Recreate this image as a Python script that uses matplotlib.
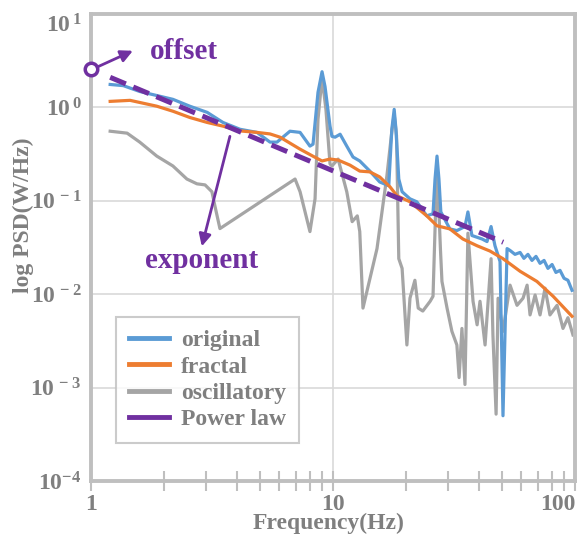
import matplotlib

matplotlib.use("Agg")

import matplotlib.pyplot as plt
from matplotlib.lines import Line2D
from matplotlib.ticker import FixedLocator, FixedFormatter, NullLocator

plt.rcParams["font.family"] = ["Liberation Serif", "DejaVu Serif"]
plt.rcParams["font.weight"] = "bold"
plt.rcParams["mathtext.fontset"] = "custom"
plt.rcParams["mathtext.rm"] = "Liberation Serif:bold"
plt.rcParams["mathtext.it"] = "Liberation Serif:bold"
plt.rcParams["mathtext.bf"] = "Liberation Serif:bold"
plt.rcParams["mathtext.default"] = "rm"

# ---- data (Hz, W/Hz) ----
orig_freq = [1.2, 1.36, 1.59, 1.87, 2.18, 2.56, 3.02, 3.51, 4.13, 4.85, 5.49, 5.87,
             6.64, 7.31, 8.03, 8.27, 8.67, 9.01, 9.27, 9.72, 9.9, 10.2, 10.7, 11.4,
             12.1, 12.9, 14.2, 15.6, 17.0, 17.5, 17.9, 18.2, 18.7, 19.3, 20.8, 22.2,
             24.4, 25.9, 26.4, 26.9, 27.4, 27.9, 30.4, 32.5, 35.1, 36.1, 37.5, 41.3,
             43.3, 45.0, 46.7, 49.0, 50.4, 52.4, 53.9, 56.5, 59.3, 61.5, 63.9, 66.4,
             69.0, 71.7, 74.5, 77.3, 80.4, 83.4, 86.7, 90.1, 93.5, 97.2]
orig_psd = [1.76, 1.71, 1.48, 1.34, 1.22, 1.03, 0.885, 0.69, 0.583, 0.54, 0.425, 0.425,
            0.556, 0.54, 0.385, 0.404, 1.45, 2.41, 1.67, 0.63, 0.49, 0.48, 0.516, 0.385,
            0.294, 0.267, 0.208, 0.159, 0.145, 0.583, 0.953, 0.583, 0.171, 0.125, 0.105, 0.0976,
            0.069, 0.0727, 0.171, 0.301, 0.171, 0.076, 0.050, 0.048, 0.053, 0.076, 0.0425, 0.039,
            0.0366, 0.053, 0.033, 0.0224, 0.0005, 0.0308, 0.0294, 0.0267, 0.0280, 0.0242, 0.0267, 0.0230,
            0.0254, 0.0214, 0.0230, 0.0189, 0.0208, 0.0171, 0.0180, 0.0148, 0.0141, 0.0110]

fractal_freq = [1.2, 1.45, 1.87, 2.18, 2.56, 3.02, 3.51, 4.13, 4.85, 5.49, 6.04, 7.31,
                8.27, 9.01, 9.72, 10.5, 11.75, 12.9, 14.2, 15.6, 17.2, 18.4, 20.8, 24.4,
                26.9, 30.4, 34.4, 39.4, 44.5, 50.4, 59.3, 69.6, 81.2, 97.2]
fractal_psd = [1.16, 1.19, 1.03, 0.91, 0.78, 0.69, 0.63, 0.56, 0.54, 0.52, 0.48, 0.357,
               0.30, 0.267, 0.28, 0.273, 0.241, 0.208, 0.204, 0.18, 0.141, 0.113, 0.0976, 0.069,
               0.054, 0.050, 0.039, 0.033, 0.029, 0.024, 0.0176, 0.0137, 0.0095, 0.0058]

osc_freq = [1.2, 1.41, 1.59, 1.87, 2.18, 2.49, 2.74, 2.96, 3.16, 3.25, 3.41, 6.97,
            7.31, 8.03, 8.43, 8.67, 9.01, 9.35, 9.72, 9.9, 10.5, 11.4, 12.0, 12.6,
            12.9, 13.3, 15.2, 16.7, 17.5, 17.9, 18.3, 18.7, 19.3, 20.2, 20.8, 21.8,
            22.5, 23.5, 25.2, 25.9, 26.9, 27.8, 28.2, 29.6, 31.0, 32.5, 33.2, 34.1,
            35.1, 36.1, 37.9, 39.4, 40.5, 42.5, 45.0, 45.8, 47.2, 48.1, 50.4, 53.9,
            57.6, 61.0, 63.4, 65.2, 68.4, 71.7, 75.2, 78.8, 84.3, 89.2, 93.5, 98.1]
osc_psd = [0.556, 0.53, 0.425, 0.301, 0.236, 0.171, 0.152, 0.148, 0.125, 0.0885, 0.0504, 0.171,
           0.125, 0.0468, 0.105, 0.745, 2.08, 0.95, 0.248, 0.236, 0.28, 0.125, 0.0598, 0.069,
           0.0468, 0.0071, 0.0308, 0.185, 0.55, 0.84, 0.5, 0.024, 0.0189, 0.00286, 0.00906, 0.0141,
           0.0071, 0.0066, 0.0084, 0.0095, 0.248, 0.03, 0.0137, 0.0071, 0.0040, 0.00286, 0.00128, 0.0043,
           0.00108, 0.045, 0.0084, 0.0047, 0.0084, 0.00286, 0.024, 0.00366, 0.00052, 0.00906, 0.0040, 0.0125,
           0.0076, 0.00906, 0.0125, 0.006, 0.0098, 0.006, 0.0116, 0.006, 0.0076, 0.0043, 0.0056, 0.00366]

power_freq = [1.2, 50.5]
power_psd = [2.1, 0.036]
offset_psd = 2.55

series_labels = ["original", "fractal", "oscillatory", "Power law"]
x_ticks = [1, 10, 100]
x_tick_labels = ["1", "10", "100"]
y_ticks = [1e-4, 1e-3, 1e-2, 1e-1, 1e0, 1e1]
y_tick_labels = [r"$10^{-4}$", r"$10^{\,-3}$", r"$10^{\,-2}$", r"$10^{\,-1}$",
                 r"$10^{\,0}$", r"$10^{\,1}$"]

BLUE = "#5b9bd5"
ORANGE = "#ed7d31"
GREY = "#a5a5a5"
PURPLE = "#7030a0"
TEXT = "#7f7f7f"
FRAME = "#bfbfbf"
GRID = "#d9d9d9"
FS = 17

fig = plt.figure(figsize=(5.77, 5.41), dpi=100)
ax = fig.add_axes([91 / 577, 1 - 481 / 541, 484 / 577, 467 / 541])

ax.plot(osc_freq, osc_psd, color=GREY, lw=2.3, zorder=2)
ax.plot(orig_freq, orig_psd, color=BLUE, lw=2.3, zorder=3)
ax.plot(fractal_freq, fractal_psd, color=ORANGE, lw=2.3, zorder=4)
ax.plot(power_freq, power_psd, color=PURPLE, lw=3.6, dashes=(3.4, 1.6), zorder=5)

ax.set_xscale("log")
ax.set_yscale("log")
ax.set_xlim(1, 100)
ax.set_ylim(1e-4, 10)

ax.xaxis.set_major_locator(FixedLocator(x_ticks))
ax.xaxis.set_major_formatter(FixedFormatter(x_tick_labels))
ax.xaxis.set_minor_locator(FixedLocator([2, 3, 4, 5, 6, 7, 8, 9, 20, 30, 40, 50, 60, 70, 80, 90]))
ax.yaxis.set_major_locator(FixedLocator(y_ticks))
ax.yaxis.set_major_formatter(FixedFormatter(y_tick_labels))
ax.yaxis.set_minor_locator(NullLocator())

ax.grid(True, which="major", color=GRID, lw=1.2, zorder=0)
ax.set_axisbelow(True)

for s in ax.spines.values():
    s.set_color(FRAME)
    s.set_linewidth(2.8)

ax.tick_params(axis="x", which="both", direction="inout", length=14, width=1.5,
               color=FRAME, labelsize=FS, labelcolor=TEXT, pad=2)
ax.tick_params(axis="y", which="both", length=0, labelsize=FS, labelcolor=TEXT, pad=7)

fig.canvas.draw()
ax.get_xticklabels()[-1].set_ha("right")
ax.get_yticklabels()[-1].set_va("top")

ax.set_xlabel("Frequency(Hz)", fontsize=FS, color=TEXT, fontweight="bold")
ax.xaxis.set_label_coords(0.49, -0.068)
ax.set_ylabel("log PSD(W/Hz)", fontsize=FS, color=TEXT, fontweight="bold")
ax.yaxis.set_label_coords(-0.118, 0.57)

handles = [Line2D([], [], color=c, lw=3.5) for c in (BLUE, ORANGE, GREY, PURPLE)]
leg = ax.legend(handles, series_labels, loc="lower left", bbox_to_anchor=(0.052, 0.081),
                frameon=True, fancybox=False, edgecolor=FRAME, fontsize=FS,
                handlelength=1.7, handletextpad=0.5, labelspacing=0.2,
                borderpad=0.55, borderaxespad=0)
leg.get_frame().set_linewidth(1.5)
for t in leg.get_texts():
    t.set_color(TEXT)

# offset marker and annotations
ax.plot([1], [offset_psd], "o", mfc="white", mec=PURPLE, ms=9, mew=2.5,
        clip_on=False, zorder=6)
ax.annotate("", xy=(1.49, 4.04), xytext=(1.069, 2.73),
            arrowprops=dict(arrowstyle="-|>", color=PURPLE, lw=2, mutation_scale=18,
                            shrinkA=0, shrinkB=0),
            annotation_clip=False)
ax.text(2.42, 3.94, "offset", color=PURPLE, fontsize=21, fontweight="bold",
        ha="center", va="center")
ax.annotate("", xy=(2.87, 0.0325), xytext=(3.75, 0.49),
            arrowprops=dict(arrowstyle="-|>", color=PURPLE, lw=2, mutation_scale=18,
                            shrinkA=0, shrinkB=0))
ax.text(2.87, 0.023, "exponent", color=PURPLE, fontsize=21, fontweight="bold",
        ha="center", va="center")

fig.savefig("out.png", dpi=100)
